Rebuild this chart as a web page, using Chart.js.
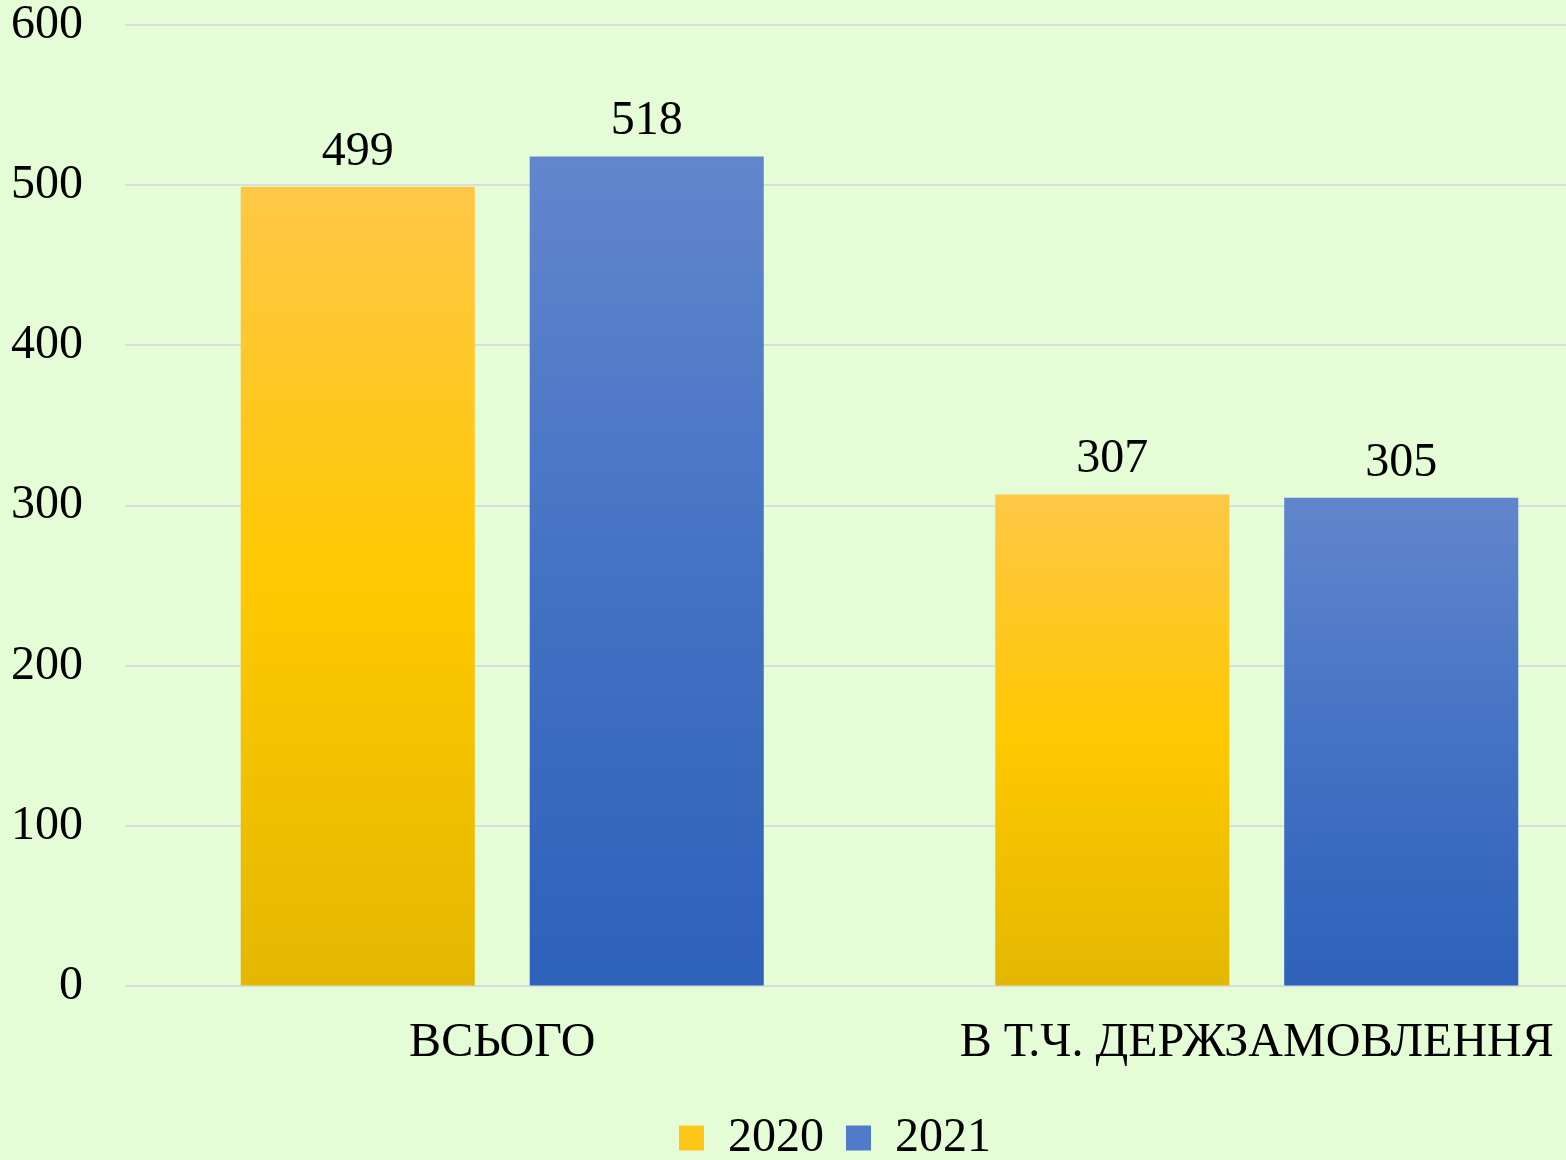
<!DOCTYPE html>
<html>
<head>
<meta charset="utf-8">
<script src="https://cdn.jsdelivr.net/npm/chart.js@4/dist/chart.umd.min.js"></script>
<style>
  html, body { margin: 0; padding: 0; background: #E5FDD7; overflow: hidden; }
  #wrap { width: 1640px; height: 1172px; }
</style>
</head>
<body>
<div id="wrap"><canvas id="grafico"></canvas></div>
<script>
var categorias = ["ВСЬОГО", "В Т.Ч. ДЕРЖЗАМОВЛЕННЯ"];
var anios = ["2020", "2021"];
var valores2020 = [499, 307];
var valores2021 = [518, 305];
var marcasY = [0, 100, 200, 300, 400, 500, 600];
var coloresLeyenda = ['#FFC61A', '#4F7BCA'];

Chart.defaults.font.family = "'Liberation Serif', 'Times New Roman', serif";
Chart.defaults.font.size = 48;
Chart.defaults.color = '#000';

// gradient per bar, from top of bar to the zero line
function degradado(stops, plano) {
  return function (c) {
    var chart = c.chart;
    if (c.type !== 'data' || !chart.chartArea || !chart.scales.y) return plano;
    var y = chart.scales.y;
    var top = y.getPixelForValue(c.raw);
    var bottom = y.getPixelForValue(0);
    var g = chart.ctx.createLinearGradient(0, top, 0, bottom);
    stops.forEach(function (s) { g.addColorStop(s[0], s[1]); });
    return g;
  };
}

var etiquetas = {
  id: 'etiquetas',
  afterLayout: function (chart) {
    // nudge legend a bit right, like the original
    if (chart.legend) { chart.legend.left += 18; chart.legend.right += 18; }
  },
  afterDatasetsDraw: function (chart) {
    var ctx = chart.ctx;
    ctx.save();
    ctx.font = "48px 'Liberation Serif', 'Times New Roman', serif";
    ctx.fillStyle = '#000';
    ctx.textAlign = 'center';
    ctx.textBaseline = 'alphabetic';
    chart.data.datasets.forEach(function (ds, i) {
      chart.getDatasetMeta(i).data.forEach(function (bar, j) {
        ctx.fillText(ds.data[j], bar.x, bar.y - 22);
      });
    });
    ctx.restore();
  }
};

var ctx = document.getElementById("grafico");

new Chart(ctx, {
  type: 'bar',
  data: {
    labels: categorias,
    datasets: [{
      label: anios[0],
      data: valores2020,
      backgroundColor: degradado([[0, '#FFC746'], [0.5, '#FFC800'], [1, '#E4B700']], '#FFC800'),
      categoryPercentage: 0.766,
      barPercentage: 0.81
    }, {
      label: anios[1],
      data: valores2021,
      backgroundColor: degradado([[0, '#6286CD'], [0.5, '#4472C4'], [1, '#2E61BA']], '#4472C4'),
      categoryPercentage: 0.766,
      barPercentage: 0.81
    }]
  },
  options: {
    responsive: true,
    maintainAspectRatio: false,
    animation: false,
    layout: { padding: { top: 25, right: 6, left: 0, bottom: 0 } },
    plugins: {
      legend: {
        position: 'bottom',
        labels: {
          boxWidth: 25, boxHeight: 25, padding: 22, font: { size: 48 },
          generateLabels: function (chart) {
            var items = Chart.defaults.plugins.legend.labels.generateLabels(chart);
            items.forEach(function (it, i) {
              it.fillStyle = coloresLeyenda[i];
              it.strokeStyle = coloresLeyenda[i];
              it.lineWidth = 0;
            });
            return items;
          }
        }
      },
      tooltip: { enabled: false }
    },
    scales: {
      x: {
        grid: { display: false },
        border: { display: false },
        ticks: { padding: 20, font: { size: 48 } }
      },
      y: {
        min: 0,
        max: 600,
        afterBuildTicks: function (s) { s.ticks = marcasY.map(function (v) { return { value: v }; }); },
        afterFit: function (s) { s.width = 125; },
        grid: { color: '#D9DEDC', lineWidth: 2, drawTicks: true, tickLength: 42, tickColor: 'rgba(0,0,0,0)' },
        border: { display: false },
        ticks: { padding: 0, font: { size: 48, lineHeight: 1 } }
      }
    }
  },
  plugins: [etiquetas]
});
</script>
</body>
</html>
